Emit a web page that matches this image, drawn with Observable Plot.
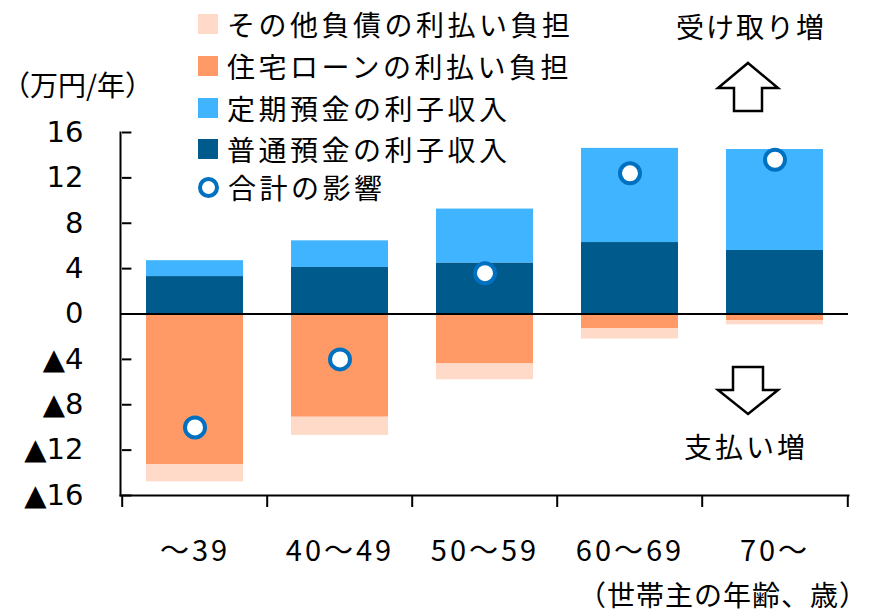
<!DOCTYPE html>
<html><head><meta charset="utf-8">
<script src="https://cdn.jsdelivr.net/npm/d3@7"></script>
<script src="https://cdn.jsdelivr.net/npm/@observablehq/plot@0.6"></script>
<style>
body{margin:0;background:#fff;}
#wrap{position:relative;width:872px;height:614px;font-family:"Noto Sans CJK JP","Noto Sans",sans-serif;color:#000;overflow:hidden;}
#wrap svg.plot{position:absolute;left:0;top:0;}
.lab{position:absolute;font-size:28px;white-space:nowrap;line-height:1;letter-spacing:2px;}
.leg{position:absolute;left:198px;top:0;font-size:28px;line-height:1;letter-spacing:3.5px;}
.row{position:absolute;left:0;display:flex;align-items:center;white-space:nowrap;height:30px;}
.sw{width:20px;height:20px;margin-right:9px;flex:none;}
.ring{width:13px;height:13px;border:4px solid #0070C0;border-radius:50%;margin-right:9px;flex:none;background:#fff;}
</style></head><body><div id="wrap"></div>
<script>
// ---- data ----
const ages = ["～39", "40～49", "50～59", "60～69", "70～"];
const seriesNames = ["普通預金の利子収入", "定期預金の利子収入", "住宅ローンの利払い負担", "その他負債の利払い負担"];
const ordinaryDeposit = [3.3, 4.1, 4.5, 6.3, 5.6];
const timeDeposit = [1.4, 2.35, 4.75, 8.3, 8.9];
const housingLoan = [-13.3, -9.1, -4.4, -1.3, -0.6];
const otherDebt = [-1.5, -1.6, -1.4, -0.9, -0.35];
const totalEffect = [-10.0, -4.0, 3.6, 12.4, 13.6];
const yTicks = [-16, -12, -8, -4, 0, 4, 8, 12, 16];
const seriesColors = ["#005A8C", "#40B4FF", "#FF9966", "#FFDAC8"];
const totalName = "合計の影響";

// ---- build tables ----
const seriesValues = [ordinaryDeposit, timeDeposit, housingLoan, otherDebt];
const bars = [];
ages.forEach((a, i) => seriesValues.forEach((vals, s) => bars.push({age: a, series: seriesNames[s], value: vals[i]})));
const totals = ages.map((a, i) => ({age: a, value: totalEffect[i]}));

const W = 872, H = 614, mL = 120, mR = 24, mT = 132, mB = 119;
const bw = (W - mL - mR) / ages.length;

const plot = Plot.plot({
  width: W, height: H,
  marginLeft: mL, marginRight: mR, marginTop: mT, marginBottom: mB,
  style: {background: "transparent", color: "#000", overflow: "visible"},
  x: {domain: ages, padding: 0, label: null},
  y: {domain: [-16, 16], label: null},
  color: {domain: seriesNames, range: seriesColors},
  marks: [
    Plot.barY(bars, {x: "age", y: "value", fill: "series", insetLeft: 24, insetRight: 24}),
    Plot.ruleY([0], {stroke: "#000", strokeWidth: 2}),
    Plot.frame({anchor: "left", stroke: "#000", strokeWidth: 2}),
    Plot.frame({anchor: "bottom", stroke: "#000", strokeWidth: 2}),
    // y ticks pointing inward
    Plot.tickY(yTicks, {y: d => d, x: () => ages[0], insetRight: bw - 10, stroke: "#000", strokeWidth: 2}),
    // x ticks at band boundaries
    Plot.ruleX(ages, {x: d => d, y1: -16, y2: -16, insetBottom: -12, dx: -bw / 2, stroke: "#000", strokeWidth: 2}),
    Plot.ruleX([ages[ages.length - 1]], {x: d => d, y1: -16, y2: -16, insetBottom: -12, dx: bw / 2, stroke: "#000", strokeWidth: 2}),
    Plot.dot(totals, {x: "age", y: "value", r: 10, fill: "#fff", stroke: "#0070C0", strokeWidth: 4}),
    Plot.axisY({ticks: yTicks, tickSize: 0, tickPadding: 37, fontSize: 29, fontFamily: "DejaVu Sans",
      tickFormat: d => d < 0 ? "▲" + Math.abs(d) : String(d)}),
    Plot.axisX({tickSize: 0, tickPadding: 45, fontSize: 29, fontFamily: "Noto Sans CJK JP", label: null})
  ]
});
plot.classList.add("plot");
d3.select(plot).selectAll('g[aria-label="x-axis tick label"] text').style("letter-spacing", "3px");
const wrap = document.getElementById("wrap");
wrap.appendChild(plot);

// ---- legend ----
const leg = document.createElement("div");
leg.className = "leg";
const legendOrder = [3, 2, 1, 0];
const rowCenters = [24, 66, 108, 149, 187];
legendOrder.forEach((s, k) => {
  const r = document.createElement("div");
  r.className = "row";
  r.style.top = (rowCenters[k] - 15) + "px";
  r.innerHTML = `<span class="sw" style="background:${seriesColors[s]}"></span><span>${seriesNames[s]}</span>`;
  leg.appendChild(r);
});
const r5 = document.createElement("div");
r5.className = "row";
r5.style.top = (rowCenters[4] - 15) + "px";
r5.innerHTML = `<span class="ring"></span><span>${totalName}</span>`;
leg.appendChild(r5);
wrap.appendChild(leg);

// ---- annotations ----
function addLabel(text, pos, extra) {
  const d = document.createElement("div");
  d.className = "lab";
  d.textContent = text;
  Object.assign(d.style, pos);
  if (extra) Object.assign(d.style, extra);
  wrap.appendChild(d);
}
addLabel("（万円/年）", {left: "2px", top: "70px"}, {letterSpacing: "0px"});
addLabel("受け取り増", {left: "676px", top: "12px"});
addLabel("支払い増", {left: "684px", top: "432px"}, {letterSpacing: "3px"});
addLabel("（世帯主の年齢、歳）", {right: "4px", top: "580px"}, {letterSpacing: "1px"});

// arrows
const ns = "http://www.w3.org/2000/svg";
const arr = document.createElementNS(ns, "svg");
arr.setAttribute("width", W); arr.setAttribute("height", H);
arr.style.position = "absolute"; arr.style.left = "0"; arr.style.top = "0";
arr.innerHTML = `
<path d="M748,63 L778,88 L762,88 L762,111 L734,111 L734,88 L718,88 Z" fill="#fff" stroke="#000" stroke-width="2.5" stroke-linejoin="miter"/>
<path d="M748,414 L778,390 L763,390 L763,367 L733,367 L733,390 L718,390 Z" fill="#fff" stroke="#000" stroke-width="2.5" stroke-linejoin="miter"/>`;
wrap.appendChild(arr);
</script></body></html>
